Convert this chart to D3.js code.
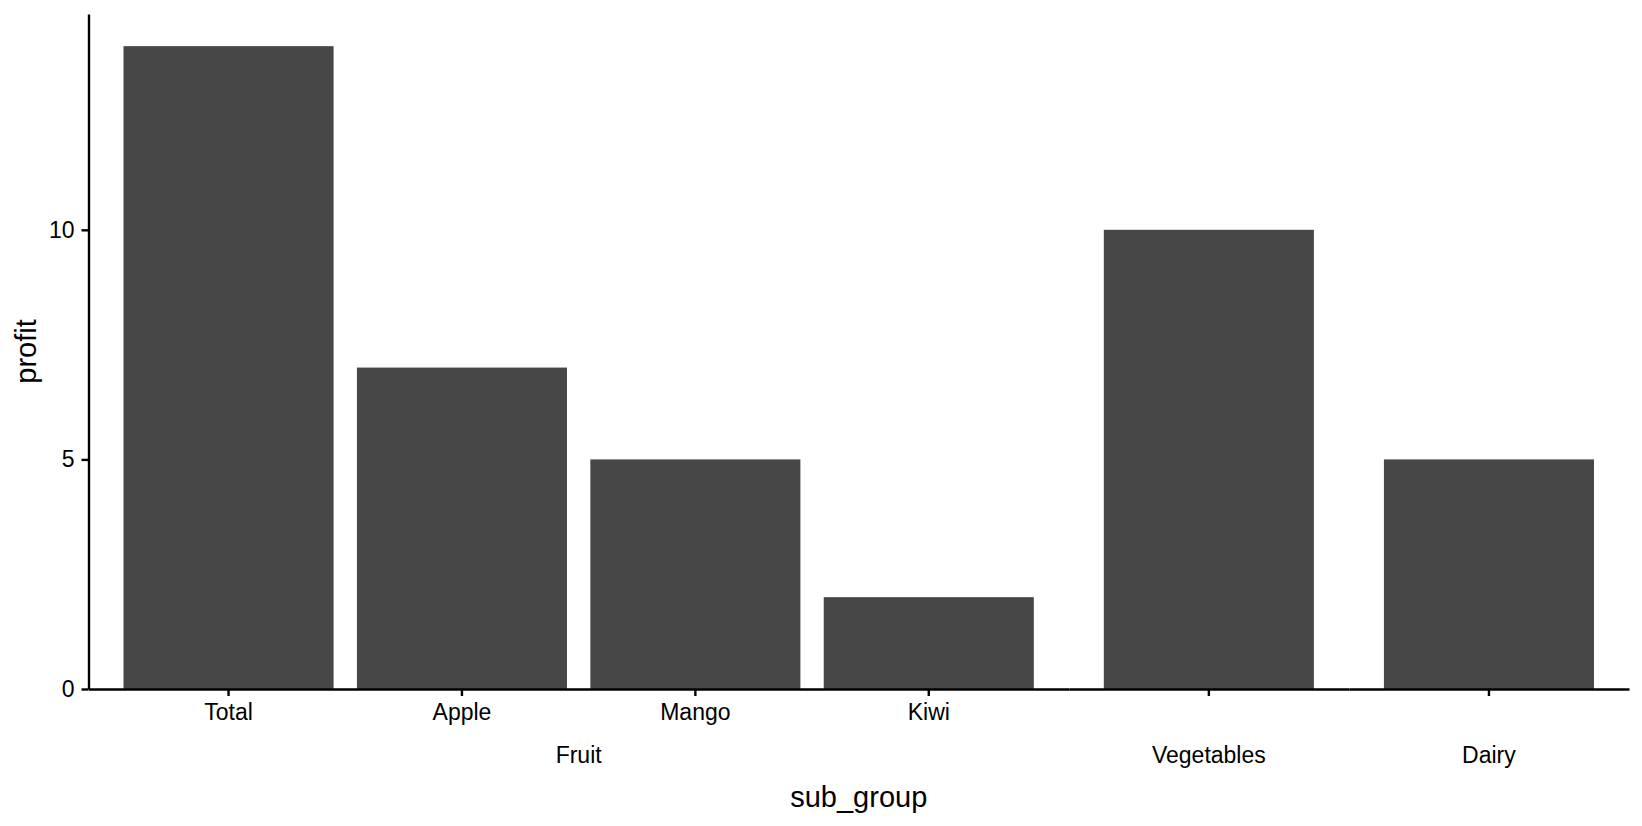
<!DOCTYPE html>
<html>
<head>
<meta charset="utf-8">
<script src="https://cdn.jsdelivr.net/npm/d3@7"></script>
<style>
  body { margin: 0; background: #fff; }
  text { font-family: "Liberation Sans", Arial, Helvetica, sans-serif; fill: #000; }
</style>
</head>
<body>
<div id="chart"></div>
<script>
/* Data */
const groups = ['Fruit', 'Vegetables', 'Dairy'];
const barGroup = ['Fruit', 'Fruit', 'Fruit', 'Fruit', 'Vegetables', 'Dairy'];
const subGroup = ['Total', 'Apple', 'Mango', 'Kiwi', '', ''];
const profit = [14, 7, 5, 2, 10, 5];
const yTicks = [0, 5, 10];

const W = 1642, H = 826;
const margin = { top: 14, right: 13, bottom: 137, left: 88.5 };
const barColor = '#474747';

const svg = d3.select('#chart').append('svg')
    .attr('width', W)
    .attr('height', H);

const rows = profit.map((v, i) => ({ key: i, group: barGroup[i], sub: subGroup[i], value: v }));

/* y scale shared by all panels (no expansion at the bottom, 5% on top) */
const yMax = d3.max(profit) * 1.05;
const y = d3.scaleLinear()
    .domain([0, yMax])
    .range([H - margin.bottom, margin.top]);

/* panels get width in proportion to their number of bars (free space) */
const panelUnits = groups.map(g => rows.filter(r => r.group === g).length + 0.2);
const unit = d3.scaleLinear()
    .domain([0, d3.sum(panelUnits)])
    .range([margin.left, W - margin.right]);

let offset = 0;
groups.forEach((g, gi) => {
    const data = rows.filter(r => r.group === g);
    const x0 = unit(offset), x1 = unit(offset + panelUnits[gi]);
    offset += panelUnits[gi];

    const x = d3.scaleBand()
        .domain(data.map(d => d.key))
        .range([x0, x1])
        .paddingInner(0.1)
        .paddingOuter(0.15);

    const panel = svg.append('g').attr('class', 'panel');

    panel.selectAll('rect')
        .data(data)
        .join('rect')
        .attr('x', d => x(d.key))
        .attr('width', x.bandwidth())
        .attr('y', d => y(d.value))
        .attr('height', d => y(0) - y(d.value))
        .attr('fill', barColor);

    const xAxis = panel.append('g')
        .attr('class', 'axis axis--x')
        .attr('transform', `translate(0,${y(0)})`)
        .call(d3.axisBottom(x)
            .tickSize(7)
            .tickSizeOuter(0)
            .tickPadding(8)
            .tickFormat(k => rows[k].sub));
    xAxis.selectAll('path, line').attr('stroke', '#000').attr('stroke-width', 2.4);
    xAxis.selectAll('text').attr('font-size', 23).attr('fill', '#000')
        .style('font-family', '"Liberation Sans", Arial, sans-serif');

    /* group label under the panel */
    panel.append('text')
        .attr('x', (x0 + x1) / 2)
        .attr('y', 763)
        .attr('text-anchor', 'middle')
        .attr('font-size', 23)
        .text(g);
});

/* y axis */
const yAxis = svg.append('g')
    .attr('class', 'axis axis--y')
    .attr('transform', `translate(${margin.left},0)`)
    .call(d3.axisLeft(y)
        .tickValues(yTicks)
        .tickSize(7)
        .tickSizeOuter(0)
        .tickPadding(7));
yAxis.selectAll('path, line').attr('stroke', '#000').attr('stroke-width', 2.4);
yAxis.selectAll('text').attr('font-size', 23).attr('fill', '#000')
    .style('font-family', '"Liberation Sans", Arial, sans-serif');

/* axis titles */
svg.append('text')
    .attr('x', (margin.left + W - margin.right) / 2)
    .attr('y', 807)
    .attr('text-anchor', 'middle')
    .attr('font-size', 29)
    .text('sub_group');

svg.append('text')
    .attr('transform', `translate(36,${(y(0) + margin.top) / 2}) rotate(-90)`)
    .attr('text-anchor', 'middle')
    .attr('font-size', 29)
    .text('profit');
</script>
</body>
</html>
